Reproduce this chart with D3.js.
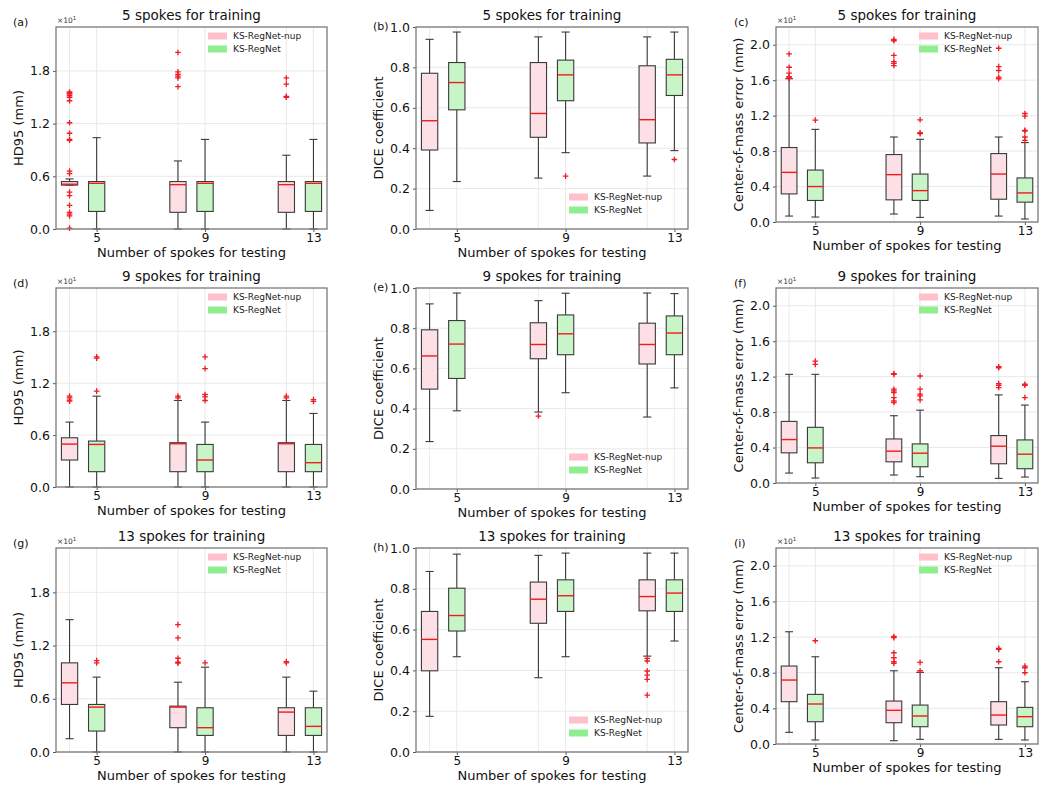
<!DOCTYPE html>
<html><head><meta charset="utf-8">
<script src="https://cdn.jsdelivr.net/npm/d3@7"></script>
<style>html,body{margin:0;padding:0;background:#fff;} svg{display:block;font-family:"DejaVu Sans",sans-serif;}</style>
</head><body>
<svg id="chart" width="1050" height="792"></svg>
<script>
// ---------------- data ----------------
const trainTitles = ["5 spokes for training", "9 spokes for training", "13 spokes for training"];
const testCats = ["5", "9", "13"];
const methods = ["KS-RegNet-nup", "KS-RegNet"];
const panelLetters = ["(a)","(b)","(c)","(d)","(e)","(f)","(g)","(h)","(i)"];
const yLabels = ["HD95 (mm)", "DICE coefficient", "Center-of-mass error (mm)"];
const hd95Ticks = [0, 0.6, 1.2, 1.8];
const diceTicks = [0, 0.2, 0.4, 0.6, 0.8, 1.0];
const comTicks = [0, 0.4, 0.8, 1.2, 1.6, 2.0];
// box order: nup@5, reg@5, nup@9, reg@9, nup@13, reg@13 ; row = [whiskerLow, q1, median, q3, whiskerHigh]
const hd95Train5 = [[0.50,0.50,0.51,0.54,0.57],[0,0.20,0.52,0.54,1.04],[0,0.19,0.505,0.54,0.775],[0,0.20,0.52,0.54,1.02],[0,0.19,0.505,0.54,0.84],[0,0.20,0.52,0.54,1.02]];
const hd95Train5Out = [[1.56,1.55,1.54,1.52,1.50,1.46,1.21,1.09,1.02,1.01,0.66,0.63,0.42,0.38,0.27,0.19,0.17,0.15,0.01],[],[2.01,1.79,1.76,1.74,1.72,1.62],[],[1.72,1.65,1.51,1.50],[]];
const diceTrain5 = [[0.092,0.391,0.536,0.771,0.939],[0.235,0.59,0.725,0.824,0.975],[0.252,0.454,0.572,0.824,0.951],[0.378,0.635,0.763,0.836,0.975],[0.262,0.426,0.541,0.808,0.951],[0.388,0.661,0.763,0.840,0.975]];
const diceTrain5Out = [[],[],[],[0.262],[],[0.344]];
const comTrain5 = [[0.067,0.317,0.56,0.84,1.616],[0.056,0.243,0.40,0.586,1.045],[0.09,0.25,0.534,0.761,0.959],[0.052,0.243,0.354,0.541,0.933],[0.067,0.257,0.541,0.772,0.959],[0.034,0.224,0.328,0.497,0.896]];
const comTrain5Out = [[1.896,1.746,1.68,1.64,1.625,1.62],[1.149],[2.06,2.045,1.88,1.81,1.79,1.765],[1.153,1.007,0.996],[1.96,1.754,1.709,1.634,1.616],[1.224,1.194,1.034,1.026,0.959,0.922]];
const hd95Train9 = [[0,0.312,0.496,0.569,0.75],[0,0.177,0.492,0.531,1.05],[0,0.177,0.50,0.512,1.0],[0,0.177,0.312,0.492,0.75],[0,0.177,0.50,0.512,1.0],[0,0.177,0.281,0.492,0.85]];
const hd95Train9Out = [[1.05,1.03,1.004,0.992],[1.504,1.49,1.108],[1.05,1.03],[1.504,1.369,1.069,1.042,1.0],[1.05,1.03],[1.01,0.99]];
const diceTrain9 = [[0.236,0.497,0.662,0.792,0.921],[0.389,0.55,0.721,0.838,0.975],[0.383,0.648,0.719,0.827,0.937],[0.479,0.668,0.772,0.866,0.974],[0.358,0.622,0.719,0.825,0.975],[0.503,0.668,0.776,0.861,0.972]];
const diceTrain9Out = [[],[],[0.363],[],[],[]];
const comTrain9 = [[0.112,0.34,0.49,0.695,1.226],[0.056,0.228,0.396,0.628,1.226],[0.09,0.239,0.359,0.497,0.759],[0.071,0.183,0.336,0.441,0.822],[0.052,0.217,0.415,0.535,0.994],[0.067,0.161,0.325,0.486,0.879]];
const comTrain9Out = [[],[1.376,1.338],[1.234,1.226,1.058,1.039,1.021,0.964,0.927,0.908],[1.207,1.058,1.002,0.983,0.938],[1.312,1.30,1.121,1.103,1.077],[1.114,1.103,0.964]];
const hd95Train13 = [[0.15,0.536,0.78,1.005,1.492],[0,0.236,0.506,0.536,0.844],[0,0.274,0.506,0.517,0.787],[0,0.187,0.274,0.499,0.956],[0,0.187,0.45,0.499,0.844],[0,0.187,0.289,0.499,0.686]];
const hd95Train13Out = [[],[1.031,1.005],[1.436,1.286,1.057,1.012,1.001],[1.005],[1.02,1.005],[]];
const diceTrain13 = [[0.175,0.398,0.552,0.689,0.885],[0.467,0.593,0.669,0.803,0.970],[0.364,0.631,0.749,0.833,0.964],[0.467,0.689,0.766,0.844,0.975],[0.470,0.692,0.762,0.844,0.975],[0.544,0.689,0.779,0.844,0.975]];
const diceTrain13Out = [[],[],[],[],[0.459,0.446,0.397,0.377,0.356,0.279],[]];
const comTrain13 = [[0.131,0.475,0.718,0.875,1.26],[0.045,0.25,0.449,0.557,0.979],[0.037,0.239,0.378,0.482,0.822],[0.052,0.194,0.314,0.437,0.804],[0.052,0.213,0.325,0.475,0.856],[0.045,0.194,0.307,0.411,0.699]];
const comTrain13Out = [[],[1.159],[1.207,1.193,1.024,0.968,0.923,0.905],[0.916,0.822],[1.073,1.062,0.923],[0.875,0.856,0.80]];

// ---------------- layout / style ----------------
const boxPositions = [1, 2, 5, 6, 9, 10];
const tickPositions = [2, 6, 10];
const fillColors = ["#fde0e5", "#c8f5c8"];
const legendColors = ["#ffc0cb", "#90ee90"];
const colLeft = [56, 416, 776], colRight = [327, 688, 1038];
const rowTop = [27, 288, 548];
const rowBottom = [[229, 229, 222], [487, 489, 483], [752, 752, 744]];
const metricCfg = [
  {domain: [0, 2.3], ticks: hd95Ticks, legendPos: "top", sci: true},
  {domain: [0, 1.0], ticks: diceTicks, legendPos: "bottom", sci: false},
  {domain: [0, 2.2], ticks: comTicks, legendPos: "top", sci: true}
];
const panelStats = [[hd95Train5, diceTrain5, comTrain5],[hd95Train9, diceTrain9, comTrain9],[hd95Train13, diceTrain13, comTrain13]];
const panelOut = [[hd95Train5Out, diceTrain5Out, comTrain5Out],[hd95Train9Out, diceTrain9Out, comTrain9Out],[hd95Train13Out, diceTrain13Out, comTrain13Out]];

const svg = d3.select("#chart");
const edge = "#3a3a3a", medColor = "#ee1c1c", gridColor = "#e6e6e6", frameColor = "#7a7a7a";

for (let r = 0; r < 3; r++) {
  for (let c = 0; c < 3; c++) {
    const L = colLeft[c], R = colRight[c], T = rowTop[r], B = rowBottom[r][c];
    const cfg = metricCfg[c];
    const x = d3.scaleLinear().domain([0.5, 10.5]).range([L, R]);
    const y = d3.scaleLinear().domain(cfg.domain).range([B, T]);
    const g = svg.append("g");
    const bw = x(0.6) - x(0);

    // grid
    g.selectAll(".gy").data(cfg.ticks).join("line")
      .attr("x1", L).attr("x2", R).attr("y1", d => y(d)).attr("y2", d => y(d))
      .attr("stroke", gridColor).attr("stroke-width", 0.9);
    g.selectAll(".gx").data(boxPositions).join("line")
      .attr("x1", d => x(d)).attr("x2", d => x(d)).attr("y1", T).attr("y2", B)
      .attr("stroke", gridColor).attr("stroke-width", 0.9);

    // axes
    const yAxis = d3.axisLeft(y).tickValues(cfg.ticks).tickFormat(d3.format(".1f")).tickSize(3).tickPadding(3);
    const ya = g.append("g").attr("transform", `translate(${L},0)`).call(yAxis);
    const xAxis = d3.axisBottom(x).tickValues(tickPositions).tickFormat((d, i) => testCats[i]).tickSize(3).tickPadding(1);
    const xa = g.append("g").attr("transform", `translate(0,${B})`).call(xAxis);
    [ya, xa].forEach(a => {
      a.select(".domain").remove();
      a.selectAll("line").attr("stroke", "#444").attr("stroke-width", 0.9);
      a.selectAll("text").attr("font-size", 12.5).attr("fill", "#111").attr("font-family", "DejaVu Sans");
    });
    xa.selectAll("text").attr("font-size", 12);

    // boxes
    const stats = panelStats[r][c];
    const outs = panelOut[r][c];
    const bg = g.append("g");
    stats.forEach((s, i) => {
      const px = x(boxPositions[i]);
      const m = i % 2;
      const [lo, q1, med, q3, hi] = s;
      const bb = bg.append("g");
      bb.append("line").attr("x1", px).attr("x2", px).attr("y1", y(q3)).attr("y2", y(hi)).attr("stroke", edge).attr("stroke-width", 1.1);
      bb.append("line").attr("x1", px).attr("x2", px).attr("y1", y(q1)).attr("y2", y(lo)).attr("stroke", edge).attr("stroke-width", 1.1);
      bb.append("line").attr("x1", px - bw / 4).attr("x2", px + bw / 4).attr("y1", y(hi)).attr("y2", y(hi)).attr("stroke", edge).attr("stroke-width", 1.1);
      bb.append("line").attr("x1", px - bw / 4).attr("x2", px + bw / 4).attr("y1", y(lo)).attr("y2", y(lo)).attr("stroke", edge).attr("stroke-width", 1.1);
      bb.append("rect").attr("x", px - bw / 2).attr("width", bw).attr("y", y(q3)).attr("height", Math.max(0.5, y(q1) - y(q3)))
        .attr("fill", fillColors[m]).attr("stroke", edge).attr("stroke-width", 1.1);
      bb.append("line").attr("x1", px - bw / 2).attr("x2", px + bw / 2).attr("y1", y(med)).attr("y2", y(med)).attr("stroke", medColor).attr("stroke-width", 1.4);
      bb.selectAll("path").data(outs[i]).join("path")
        .attr("transform", d => `translate(${px},${y(d)})`)
        .attr("d", "M-2.8,0H2.8M0,-2.8V2.8").attr("stroke", "#f01c24").attr("stroke-width", 1.3).attr("fill", "none");
    });

    // frame
    g.append("rect").attr("x", L).attr("y", T).attr("width", R - L).attr("height", B - T)
      .attr("fill", "none").attr("stroke", frameColor).attr("stroke-width", 1.3);

    // legend
    const lgX = R - 119;
    const lgY = cfg.legendPos === "top" ? T + 9 : B - 32;
    methods.forEach((name, k) => {
      const cy = lgY + k * 13;
      g.append("rect").attr("x", lgX).attr("y", cy - 3.5).attr("width", 19).attr("height", 7).attr("fill", legendColors[k]);
      g.append("text").attr("x", lgX + 25).attr("y", cy + 3.2).attr("font-size", 9).attr("fill", "#222").text(name);
    });

    // titles and labels
    g.append("text").attr("x", (L + R) / 2).attr("y", T - 7).attr("text-anchor", "middle")
      .attr("font-size", 13.5).attr("fill", "#111").text(trainTitles[r]);
    g.append("text").attr("x", (L + R) / 2).attr("y", B + 27.5).attr("text-anchor", "middle")
      .attr("font-size", 13).attr("fill", "#111").text("Number of spokes for testing");
    g.append("text").attr("transform", `translate(${L - 33},${(T + B) / 2}) rotate(-90)`).attr("text-anchor", "middle")
      .attr("font-size", 13).attr("fill", "#111").text(yLabels[c]);
    const letterX = [13, 373, 734][c];
    g.append("text").attr("x", letterX).attr("y", c === 1 ? T + 3 : T - 1)
      .attr("font-size", 11).attr("fill", "#111").text(panelLetters[r * 3 + c]);
    if (cfg.sci) {
      const t = g.append("text").attr("x", L + 1).attr("y", T - 4).attr("font-size", 7.5).attr("fill", "#333");
      t.append("tspan").text("×10");
      t.append("tspan").attr("dy", -3).attr("font-size", 5.5).text("1");
    }
  }
}
</script>
</body></html>
